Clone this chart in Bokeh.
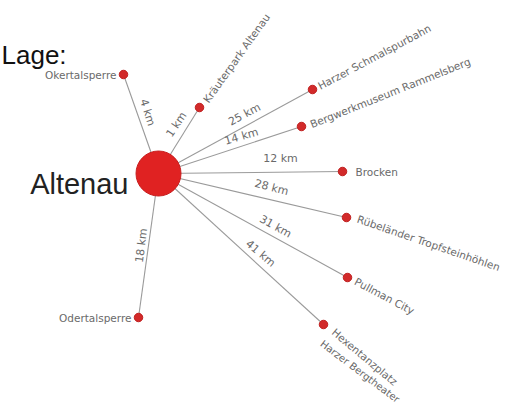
from bokeh.plotting import figure
from bokeh.models import Range1d, ColumnDataSource
from bokeh.core.properties import value
from bokeh.embed import file_html
from bokeh.resources import INLINE
import math

# Hub
hub_name = "Altenau"
hub_x = 158
hub_y = 173

# Destinations (positions on the sketch map, px-like coords, y downward)
dest_names = ["Okertalsperre", "Kräuterpark Altenau", "Harzer Schmalspurbahn",
              "Bergwerkmuseum Rammelsberg", "Brocken", "Rübeländer Tropfsteinhöhlen",
              "Pullman City", "Hexentanzplatz", "Odertalsperre"]
dest_x = [123, 199, 312, 301, 342, 346, 347, 323, 138]
dest_y = [74, 107, 89, 126, 171, 217, 277, 324, 317]
dest_km = ["4 km", "1 km", "25 km", "14 km", "12 km", "28 km", "31 km", "41 km", "18 km"]

# label placement
name_x = [116, 205, 318, 310, 355, 357, 355, 333, 131]
name_y = [74, 101, 86, 124, 171, 218, 280, 330, 317]
name_angle_deg = [0, 54.5, 28, 21.8, 0, -19, -28, -40, 0]
name_align = ["right", "left", "left", "left", "left", "left", "left", "left", "right"]

km_x = [147, 176, 244, 241, 280, 271, 275, 260, 141]
km_y = [112, 124, 114, 136, 158, 187, 226, 253, 245]
km_angle_deg = [-72, 56, 28, 16, 0, -15, -29, -40, 83]

second_line = "Harzer Bergtheater"
second_x = 321
second_y = 342

W, H = 516, 405
p = figure(width=W, height=H, output_backend="svg", toolbar_location=None,
           x_range=Range1d(0, W), y_range=Range1d(H, 0),
           min_border=0)
p.axis.visible = False
p.grid.visible = False
p.outline_line_color = None
p.background_fill_color = "white"

lbl_font = value("DejaVu Sans")
gray = "#6a6a6a"

# spokes
p.segment(x0=[hub_x] * len(dest_x), y0=[hub_y] * len(dest_y), x1=dest_x, y1=dest_y,
          line_color="#9a9a9a", line_width=1.1)
# destination dots
p.scatter(dest_x, dest_y, size=8.5, fill_color="#d22a2a", line_color="#c02020")
# hub
p.scatter([hub_x], [hub_y], size=45, fill_color="#e02222", line_color="#c81e1e", line_width=1)

# destination names
src = ColumnDataSource(dict(x=name_x, y=name_y, t=dest_names,
                            a=[math.radians(v) for v in name_angle_deg], al=name_align))
p.text(x="x", y="y", text="t", angle="a", text_align="al", text_baseline="middle",
       source=src, text_font=lbl_font, text_font_size="10.5px", text_color=gray)
p.text(x=[second_x], y=[second_y], text=[second_line], angle=[math.radians(-37)],
       text_align="left", text_baseline="middle",
       text_font=lbl_font, text_font_size="10px", text_color=gray)

# distances
src2 = ColumnDataSource(dict(x=km_x, y=km_y, t=dest_km,
                             a=[math.radians(v) for v in km_angle_deg]))
p.text(x="x", y="y", text="t", angle="a", text_align="center", text_baseline="middle",
       source=src2, text_font=lbl_font, text_font_size="11px", text_color=gray)

# hub name
p.text(x=[128], y=[183], text=[hub_name], text_align="right", text_baseline="alphabetic",
       text_font=value("Liberation Sans"), text_font_size="29px", text_color="#222222")

# title
p.text(x=[1], y=[54], text=["Lage:"], text_align="left", text_baseline="alphabetic",
       text_font=value("Liberation Sans"), text_font_size="26px", text_color="#111111")

open("out.html", "w").write(file_html(p, INLINE))
